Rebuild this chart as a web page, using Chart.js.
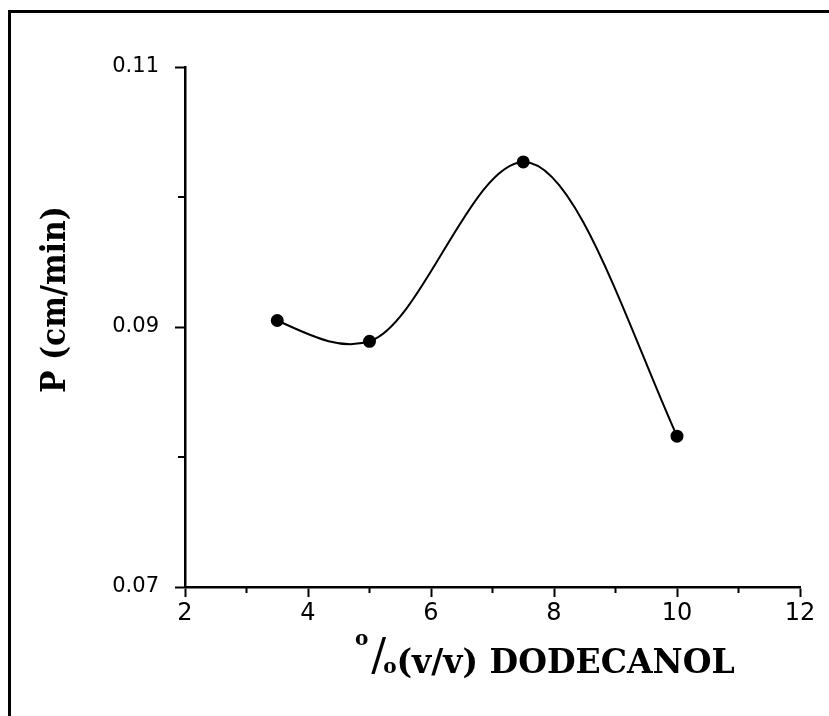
<!DOCTYPE html>
<html>
<head>
<meta charset="utf-8">
<title>P vs dodecanol</title>
<script src="https://cdn.jsdelivr.net/npm/chart.js@4.4.1/dist/chart.umd.min.js"></script>
<style>
    html, body { margin: 0; padding: 0; background: #fff; }
    #wrap { position: relative; width: 829px; height: 716px; overflow: hidden; }
    #permChart { position: absolute; left: 0; top: 0; }
    /* 外框：只有左邊和上邊 */
    #frame {
        position: absolute; left: 8px; top: 10px; right: -10px; bottom: -10px;
        border-left: 3px solid #000; border-top: 3px solid #000;
        pointer-events: none;
    }
</style>
</head>
<body>
<div id="wrap">
    <canvas id="permChart" width="829" height="716"></canvas>
    <div id="frame"></div>
</div>
<script>
// 十二醇含量 (% v/v)
const dodecanol = [3.5, 5, 7.5, 10];
// 滲透係數 P (cm/min)
const permeability = [0.0905, 0.0889, 0.1027, 0.0816];

// 刻度
const xTicks = [2, 4, 6, 8, 10, 12];
const xMinorTicks = [3, 5, 7, 9, 11];
const yTicks = [0.07, 0.09, 0.11];
const yMinorTicks = [0.08, 0.10];

const yTitle = 'P (cm/min)';
const xTitle = '(v/v) DODECANOL';

// 自然三次樣條：求各節點斜率（像素座標）
function naturalSlopes(xs, ys) {
    const n = xs.length;
    const h = [], d = [];
    for (let i = 0; i < n - 1; i++) {
        h[i] = xs[i + 1] - xs[i];
        d[i] = (ys[i + 1] - ys[i]) / h[i];
    }
    const M = new Array(n).fill(0);
    if (n > 2) {
        const b = [], c = [], r = [];
        for (let i = 1; i < n - 1; i++) {
            b[i] = 2 * (h[i - 1] + h[i]);
            c[i] = h[i];
            r[i] = 6 * (d[i] - d[i - 1]);
        }
        // Thomas 算法
        for (let i = 2; i < n - 1; i++) {
            const w = h[i - 1] / b[i - 1];
            b[i] -= w * c[i - 1];
            r[i] -= w * r[i - 1];
        }
        for (let i = n - 2; i >= 1; i--) {
            M[i] = (r[i] - (i < n - 2 ? c[i] * M[i + 1] : 0)) / b[i];
        }
    }
    const m = [];
    for (let i = 0; i < n - 1; i++) {
        m[i] = d[i] - h[i] * (2 * M[i] + M[i + 1]) / 6;
    }
    m[n - 1] = d[n - 2] + h[n - 2] * (M[n - 2] + 2 * M[n - 1]) / 6;
    return m;
}

// 單調斜率：極值點斜率為 0，端點取割線斜率
function monotoneSlopes(xs, ys) {
    const n = xs.length;
    const d = [];
    for (let i = 0; i < n - 1; i++) d[i] = (ys[i + 1] - ys[i]) / (xs[i + 1] - xs[i]);
    const m = [d[0]];
    for (let i = 1; i < n - 1; i++) {
        m[i] = d[i - 1] * d[i] <= 0 ? 0 : (d[i - 1] + d[i]) / 2;
    }
    m[n - 1] = d[n - 2];
    return m;
}

// 平滑曲線：兩種斜率各取一半，覆蓋線段的貝塞爾控制點
const smoothCurve = {
    id: 'smoothCurve',
    beforeDatasetsDraw(chart) {
        const meta = chart.getDatasetMeta(0);
        const line = meta.dataset;
        const pts = meta.data;
        if (!line || pts.length < 2) return;
        line.updateControlPoints(chart.chartArea, 'x');
        const xs = pts.map(p => p.x);
        const ys = pts.map(p => p.y);
        const mn = naturalSlopes(xs, ys);
        const mm = monotoneSlopes(xs, ys);
        for (let i = 0; i < pts.length; i++) {
            const m = 0.5 * mn[i] + 0.5 * mm[i];
            const hPrev = i > 0 ? (xs[i] - xs[i - 1]) / 3 : 0;
            const hNext = i < pts.length - 1 ? (xs[i + 1] - xs[i]) / 3 : 0;
            pts[i].cp1x = xs[i] - hPrev;
            pts[i].cp1y = ys[i] - m * hPrev;
            pts[i].cp2x = xs[i] + hNext;
            pts[i].cp2y = ys[i] + m * hNext;
        }
    }
};

// 次刻度和軸標題
const axisDecor = {
    id: 'axisDecor',
    afterDraw(chart) {
        const ctx = chart.ctx;
        const area = chart.chartArea;
        const xs = chart.scales.x;
        const ys = chart.scales.y;

        ctx.save();
        ctx.strokeStyle = '#000';
        ctx.lineWidth = 2;
        xMinorTicks.forEach(v => {
            const px = xs.getPixelForValue(v);
            ctx.beginPath();
            ctx.moveTo(px, area.bottom);
            ctx.lineTo(px, area.bottom + 6);
            ctx.stroke();
        });
        yMinorTicks.forEach(v => {
            const py = ys.getPixelForValue(v);
            ctx.beginPath();
            ctx.moveTo(area.left - 7, py);
            ctx.lineTo(area.left, py);
            ctx.stroke();
        });

        ctx.fillStyle = '#000';
        ctx.textBaseline = 'alphabetic';
        ctx.textAlign = 'left';

        // Y 軸標題（旋轉）
        ctx.save();
        ctx.translate(65, 393);
        ctx.rotate(-Math.PI / 2);
        ctx.scale(0.88, 1);
        ctx.font = 'bold 34px "DejaVu Serif"';
        ctx.fillText(yTitle, 0, 0);
        ctx.restore();

        // X 軸標題：°/o 百分號 + 文字
        const base = 673;
        let x = 355;
        ctx.font = 'bold 20px "DejaVu Serif"';
        ctx.fillText('o', x, base - 28);
        x += ctx.measureText('o').width + 3;
        ctx.font = '44px "DejaVu Serif"';
        ctx.fillText('/', x, base - 3);
        x += ctx.measureText('/').width - 3;
        ctx.font = 'bold 20px "DejaVu Serif"';
        ctx.fillText('o', x, base);
        x += ctx.measureText('o').width;
        ctx.font = 'bold 33px "DejaVu Serif"';
        ctx.fillText(xTitle, x, base);
        ctx.restore();
    }
};

const chartConfig = {
    type: 'line',
    data: {
        datasets: [{
            data: dodecanol.map((v, i) => ({ x: v, y: permeability[i] })),
            borderColor: '#000',
            borderWidth: 2,
            pointRadius: 5.5,
            pointBackgroundColor: '#000',
            pointBorderColor: '#000',
            tension: 0.4,
            fill: false
        }]
    },
    options: {
        responsive: false,
        animation: false,
        layout: {
            padding: { top: 67, right: 29, bottom: 0, left: 0 }
        },
        plugins: {
            legend: { display: false },
            tooltip: { enabled: false }
        },
        scales: {
            x: {
                type: 'linear',
                min: 2,
                max: 12,
                afterBuildTicks: s => { s.ticks = xTicks.map(v => ({ value: v })); },
                afterFit: s => { s.height = 129; },
                border: { color: '#000', width: 2.5 },
                grid: {
                    drawOnChartArea: false,
                    drawTicks: true,
                    tickLength: 10,
                    tickColor: '#000',
                    tickWidth: 2
                },
                ticks: {
                    color: '#000',
                    font: { family: 'DejaVu Sans', size: 24 },
                    padding: 2,
                    maxRotation: 0,
                    callback: v => String(v)
                }
            },
            y: {
                type: 'linear',
                min: 0.07,
                max: 0.11,
                afterBuildTicks: s => { s.ticks = yTicks.map(v => ({ value: v })); },
                afterFit: s => { s.width = 185; },
                border: { color: '#000', width: 2.5 },
                grid: {
                    drawOnChartArea: false,
                    drawTicks: true,
                    tickLength: 10,
                    tickColor: '#000',
                    tickWidth: 2
                },
                ticks: {
                    color: '#000',
                    font: { family: 'DejaVu Sans', size: 21 },
                    padding: 16,
                    callback: v => v.toFixed(2)
                }
            }
        }
    },
    plugins: [smoothCurve, axisDecor]
};

const permChart = new Chart(document.getElementById('permChart').getContext('2d'), chartConfig);
</script>
</body>
</html>
